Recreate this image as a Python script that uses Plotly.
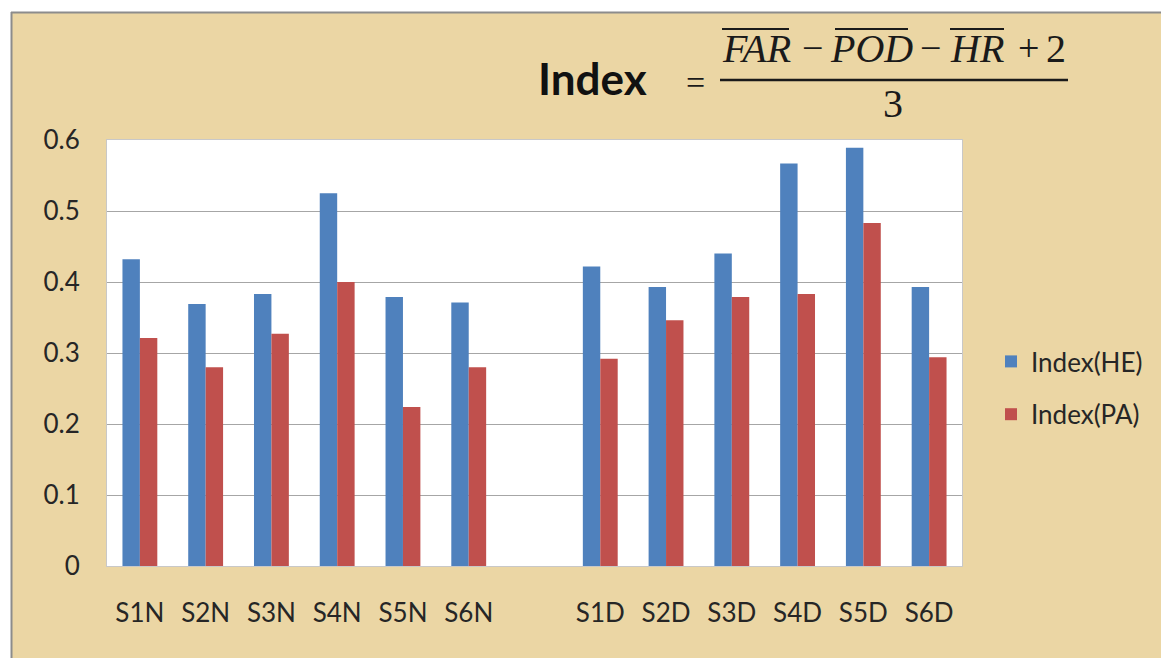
import plotly.graph_objects as go

categories = ["S1N", "S2N", "S3N", "S4N", "S5N", "S6N", " ",
              "S1D", "S2D", "S3D", "S4D", "S5D", "S6D"]
index_he = [0.432, 0.369, 0.383, 0.525, 0.379, 0.371, None,
            0.422, 0.393, 0.440, 0.567, 0.589, 0.393]
index_pa = [0.321, 0.280, 0.327, 0.400, 0.224, 0.280, None,
            0.292, 0.346, 0.379, 0.383, 0.483, 0.294]
y_ticks = [0, 0.1, 0.2, 0.3, 0.4, 0.5, 0.6]

W, H = 1161, 658
L, R, T, B = 107, 199, 140, 92
PW, PH = W - L - R, H - T - B


def px(x):
    return (x - L) / PW


def py(y):
    return (H - B - y) / PH


BG = "#EBD6A4"
TXT = "#262626"
FONT = "Lato"

fig = go.Figure()
fig.add_trace(go.Bar(x=categories, y=index_he, name="Index(HE)",
                     marker=dict(color="#4F81BD", line=dict(width=0)),
                     legendgroup="he"))
fig.add_trace(go.Bar(x=categories, y=index_pa, name="Index(PA)",
                     marker=dict(color="#C0504D", line=dict(width=0)),
                     legendgroup="pa"))

shapes = [
    # white frame strips and grey border of the picture
    dict(type="rect", xref="paper", yref="paper", x0=px(-5), x1=px(11),
         y0=py(H + 5), y1=py(-5), fillcolor="white", line=dict(width=0), layer="below"),
    dict(type="rect", xref="paper", yref="paper", x0=px(-5), x1=px(W + 5),
         y0=py(12), y1=py(-5), fillcolor="white", line=dict(width=0), layer="below"),
    dict(type="line", xref="paper", yref="paper", x0=px(11.5), x1=px(11.5),
         y0=py(12), y1=py(H + 5), line=dict(color="#8C8C8C", width=2)),
    dict(type="line", xref="paper", yref="paper", x0=px(11), x1=px(W + 5),
         y0=py(12.5), y1=py(12.5), line=dict(color="#8C8C8C", width=2)),
    # fraction bar
    dict(type="line", xref="paper", yref="paper", x0=px(720), x1=px(1068),
         y0=py(80), y1=py(80), line=dict(color="#1a1a1a", width=2.5)),
    # overlines
    dict(type="line", xref="paper", yref="paper", x0=px(722), x1=px(789),
         y0=py(29), y1=py(29), line=dict(color="#1a1a1a", width=2)),
    dict(type="line", xref="paper", yref="paper", x0=px(835), x1=px(908),
         y0=py(29), y1=py(29), line=dict(color="#1a1a1a", width=2)),
    dict(type="line", xref="paper", yref="paper", x0=px(950), x1=px(1004),
         y0=py(29), y1=py(29), line=dict(color="#1a1a1a", width=2)),
]

ann = []


def add_text(text, x, y, size, family="Liberation Serif", color="#1a1a1a"):
    ann.append(dict(text=text, xref="paper", yref="paper", x=px(x), y=py(y),
                    xanchor="center", yanchor="middle", showarrow=False,
                    font=dict(size=size, family=family, color=color)))


add_text("<b>Index</b>", 592, 78, 44, family=FONT, color="#111111")
add_text("=", 695, 82, 34)
add_text("<i>FAR</i>", 756, 48, 40)
add_text("\u2212", 812, 48, 38)
add_text("<i>POD</i>", 871, 48, 40)
add_text("\u2212", 930, 48, 38)
add_text("<i>HR</i>", 977, 48, 40)
add_text("+", 1028, 48, 38)
add_text("2", 1056, 48, 40)
add_text("3", 893, 104, 40)

fig.update_layout(
    width=W, height=H,
    margin=dict(l=L, r=R, t=T, b=B, pad=0),
    paper_bgcolor=BG,
    plot_bgcolor="white",
    barmode="group",
    bargap=0.47,
    bargroupgap=0,
    font=dict(family=FONT, size=26, color=TXT),
    showlegend=True,
    legend=dict(x=px(991), y=py(338), xanchor="left", yanchor="top",
                bgcolor="rgba(0,0,0,0)", font=dict(size=26, family=FONT, color=TXT),
                tracegroupgap=16, traceorder="grouped"),
    shapes=shapes,
    annotations=ann,
    xaxis=dict(type="category", categoryorder="array", categoryarray=categories,
               showgrid=False, zeroline=False, showline=True, linecolor="#C8C8C8",
               linewidth=1, mirror=True, ticks="", ticklabelstandoff=24,
               tickfont=dict(size=26, family=FONT, color=TXT)),
    yaxis=dict(range=[0, 0.6], tickvals=y_ticks, showgrid=True, gridcolor="#A6A6A6",
               gridwidth=1.3, zeroline=False, showline=True, linecolor="#C8C8C8",
               linewidth=1, mirror=True, ticks="", ticklabelstandoff=21,
               tickfont=dict(size=26, family=FONT, color=TXT)),
)

fig.write_html("out.html", config={"displayModeBar": False},
               post_script="document.body.style.margin='0';document.body.style.overflow='hidden';")
